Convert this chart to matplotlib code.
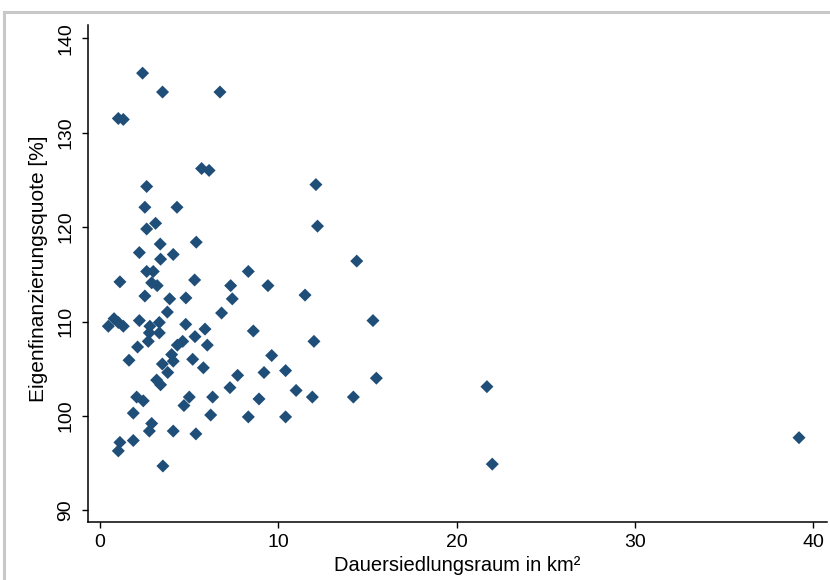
import matplotlib.pyplot as plt
from matplotlib.lines import Line2D

plt.rcParams['font.family'] = ['Liberation Sans', 'DejaVu Sans']

# Dauersiedlungsraum (km²) vs. Eigenfinanzierungsquote (%)
flaeche = [
    2.39, 3.51, 6.73, 1.03, 1.31,
    5.70, 6.12, 2.62, 2.52, 4.32, 3.12, 2.62, 3.38, 5.40, 2.21, 4.11, 3.40,
    2.62, 2.99, 2.90, 3.21, 1.12, 5.31, 8.32, 7.33, 2.52, 3.91, 4.82, 7.42,
    12.11, 12.20, 14.40, 9.42, 11.50, 15.31, 8.60, 12.00, 9.63, 9.20, 10.41,
    15.50, 11.00, 8.92, 11.91, 14.21, 8.32, 10.41,
    3.78, 6.82, 0.47, 0.79, 1.03, 1.31, 2.21, 3.33, 2.80, 2.77, 3.33, 2.71,
    4.81, 5.89, 5.33, 6.02, 2.11, 4.34, 4.64, 4.02, 4.11, 1.63, 3.50, 5.20,
    5.80, 3.80, 3.18, 3.40, 7.72, 7.29, 2.06, 2.43, 5.01, 4.71, 6.32, 1.87,
    6.21, 2.90, 2.77, 4.11, 5.38, 1.12, 1.03, 1.87, 3.53,
    21.70, 22.00, 39.20,
]
quote = [
    136.3, 134.3, 134.3, 131.5, 131.4,
    126.2, 126.0, 124.3, 122.1, 122.1, 120.4, 119.8, 118.2, 118.4, 117.3, 117.1, 116.6,
    115.3, 115.3, 114.1, 113.8, 114.2, 114.4, 115.3, 113.8, 112.7, 112.4, 112.5, 112.4,
    124.5, 120.1, 116.4, 113.8, 112.8, 110.1, 109.0, 107.9, 106.4, 104.6, 104.8,
    104.0, 102.7, 101.8, 102.0, 102.0, 99.9, 99.9,
    111.0, 110.9, 109.5, 110.3, 109.9, 109.5, 110.1, 109.9, 109.5, 108.8, 108.8, 107.9,
    109.7, 109.2, 108.4, 107.5, 107.3, 107.5, 107.9, 106.5, 105.8, 105.9, 105.5, 106.0,
    105.1, 104.6, 103.8, 103.3, 104.3, 103.0, 102.0, 101.6, 102.0, 101.1, 102.0, 100.3,
    100.1, 99.2, 98.4, 98.4, 98.1, 97.2, 96.3, 97.4, 94.7,
    103.1, 94.9, 97.7,
]

x_ticks = [0, 10, 20, 30, 40]
y_ticks = [90, 100, 110, 120, 130, 140]

fig = plt.figure(figsize=(8.3, 5.8), dpi=100)

# grauer Rahmen der Grafik (links und oben)
fig.add_artist(Line2D([4/830, 4/830], [0, 1 - 12/580], color='#c8c8c8', lw=2.2,
                      transform=fig.transFigure))
fig.add_artist(Line2D([4/830, 1], [1 - 12/580, 1 - 12/580], color='#c8c8c8', lw=2.2,
                      transform=fig.transFigure))

ax = fig.add_axes([88/830, 58/580, 739/830, 497/580])
ax.scatter(flaeche, quote, marker='D', s=44, color='#1f4e79', edgecolors='none', zorder=3)

ax.set_xlim(-0.67, 40.77)
ax.set_ylim(88.77, 141.4)
ax.set_xticks(x_ticks)
ax.set_yticks(y_ticks)
ax.tick_params(axis='both', direction='out', length=4, width=1, colors='black',
               labelsize=14)
ax.tick_params(axis='x', pad=4.5)
ax.tick_params(axis='y', pad=5.8)
for lab in ax.get_yticklabels():
    lab.set_rotation(90)
    lab.set_va('center')

for side in ['top', 'right']:
    ax.spines[side].set_visible(False)
for side in ['left', 'bottom']:
    ax.spines[side].set_linewidth(1.1)

ax.set_xlabel('Dauersiedlungsraum in km²', fontsize=14.5, va='top')
ax.xaxis.set_label_coords(0.5, -0.0685)
ax.set_ylabel('Eigenfinanzierungsquote [%]', fontsize=15, va='center', ha='center')
ax.yaxis.set_label_coords(-0.067, 0.51)

plt.savefig('out.png', dpi=100)
